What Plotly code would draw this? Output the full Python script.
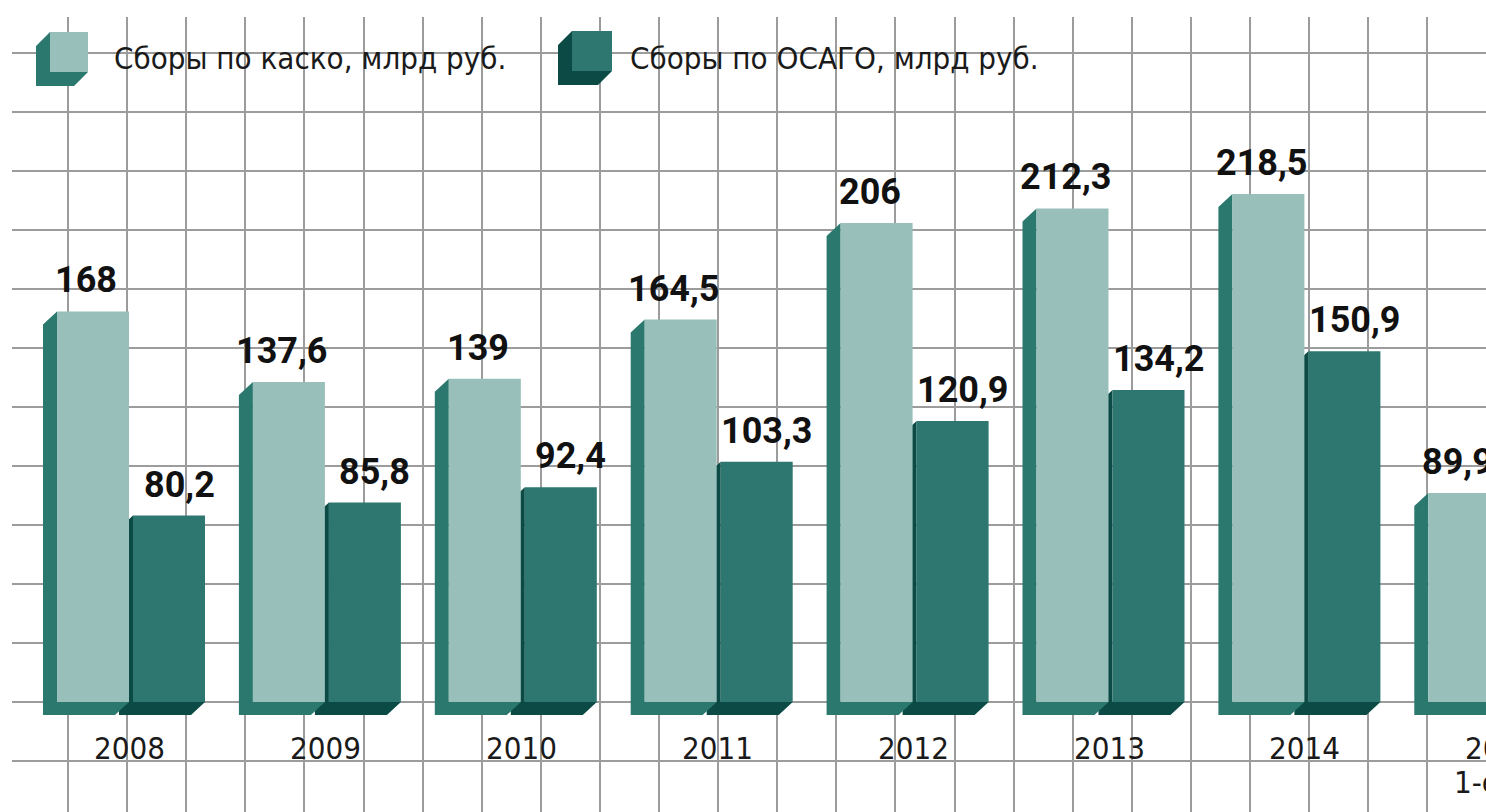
import plotly.graph_objects as go

# ---------------- data ----------------
years = ["2008", "2009", "2010", "2011", "2012", "2013", "2014", "2015"]
kasko = [168, 137.6, 139, 164.5, 206, 212.3, 218.5, 89.9]
osago = [80.2, 85.8, 92.4, 103.3, 120.9, 134.2, 150.9, None]
series_names = ["Сборы по каско, млрд руб.", "Сборы по ОСАГО, млрд руб."]
last_sub_label = "1-е полугодие"

# ---------------- styling / geometry ----------------
W, H = 1486, 812
ML, MT = 12, 17
PX = 195.9      # pixels per category step
X0 = 129.5      # pixel of category 0
PPU = 2.325     # pixels per value unit
BASE = 702      # pixel of value 0

K_FRONT = "#98bfba"
K_SIDE = "#2b786f"
O_FRONT = "#2e7770"
O_SIDE = "#0c4b45"
GRID = "#9c9c9c"

K_OFF, K_W = -36.5 / PX, 72 / PX
O_OFF, O_W = 39.5 / PX, 72 / PX
DX, DY = -14 / PX, -13 / PPU

LABEL_FONT = dict(family="Roboto, DejaVu Sans", size=36, color="#111111", weight=700)
TEXT_FONT = dict(family="DejaVu Sans Condensed, DejaVu Sans", size=31, color="#1a1a1a")

xs = list(range(len(years)))
xrange_ = [(ML - X0) / PX, (W - X0) / PX]
yrange_ = [-(H - BASE) / PPU, (BASE - MT) / PPU]


def px2p(x):
    return (x - ML) / (W - ML)


def py2p(y):
    return (H - y) / (H - MT)


def cat2p(i):
    # category position -> paper fraction (through the same linear x scale)
    return (X0 + i * PX - ML) / (W - ML)


def fmt(v):
    return f"{v:g}".replace(".", ",")


fig = go.Figure()
shapes = []
annotations = []


def add_extrusion(xc, w, v, color):
    xl, xr = xc - w / 2, xc + w / 2
    path = (f"M{xl},{v} L{xl + DX},{v + DY} L{xl + DX},{DY} "
            f"L{xr + DX},{DY} L{xr},0 L{xl},0 Z")
    shapes.append(dict(type="path", xref="x", yref="y", path=path,
                       fillcolor=color, line=dict(width=0), layer="between"))


for i, v in enumerate(osago):
    if v is not None:
        add_extrusion(i + O_OFF, O_W, v, O_SIDE)
for i, v in enumerate(kasko):
    if v is not None:
        add_extrusion(i + K_OFF, K_W, v, K_SIDE)

fig.add_trace(go.Bar(x=[i + K_OFF for i in xs], y=kasko, width=K_W,
                     marker=dict(color=K_FRONT, line=dict(width=0)),
                     name=series_names[0], showlegend=False, hoverinfo="skip"))
fig.add_trace(go.Bar(x=[i + O_OFF for i in xs], y=osago, width=O_W,
                     marker=dict(color=O_FRONT, line=dict(width=0)),
                     name=series_names[1], showlegend=False, hoverinfo="skip"))

# value labels
for i, v in enumerate(kasko):
    if v is not None:
        annotations.append(dict(x=i + K_OFF, y=v, xref="x", yref="y", text=fmt(v),
                                showarrow=False, xanchor="center", yanchor="bottom",
                                xshift=-7, yshift=8, font=LABEL_FONT))
for i, v in enumerate(osago):
    if v is not None:
        annotations.append(dict(x=i + O_OFF, y=v, xref="x", yref="y", text=fmt(v),
                                showarrow=False, xanchor="center", yanchor="bottom",
                                xshift=10, yshift=8, font=LABEL_FONT))

# category labels
for i, yr in enumerate(years):
    annotations.append(dict(x=cat2p(i), y=py2p(748), xref="paper", yref="paper", text=yr,
                            showarrow=False, xanchor="center", yanchor="middle",
                            font=TEXT_FONT))
annotations.append(dict(x=cat2p(len(years) - 1), y=py2p(782), xref="paper", yref="paper",
                        text=last_sub_label, showarrow=False, xanchor="left",
                        yanchor="middle", xshift=1452 - (X0 + (len(years) - 1) * PX),
                        font=TEXT_FONT))

# custom 3D legend
legend_items = [
    (series_names[0], K_FRONT, K_SIDE, (50, 32, 88, 72), 112),
    (series_names[1], O_FRONT, O_SIDE, (572, 31, 612, 71), 628),
]
for name, fc, sc, (x1, y1, x2, y2), tx in legend_items:
    d = 14
    pts = [(x1, y1), (x1 - d, y1 + d), (x1 - d, y2 + d), (x2 - d, y2 + d), (x2, y2), (x1, y2)]
    path = "M" + " L".join(f"{px2p(a)},{py2p(b)}" for a, b in pts) + " Z"
    shapes.append(dict(type="path", xref="paper", yref="paper", path=path,
                       fillcolor=sc, line=dict(width=0), layer="above"))
    shapes.append(dict(type="rect", xref="paper", yref="paper",
                       x0=px2p(x1), x1=px2p(x2), y0=py2p(y2), y1=py2p(y1),
                       fillcolor=fc, line=dict(width=0), layer="above"))
    annotations.append(dict(x=px2p(tx), y=py2p(58), xref="paper", yref="paper",
                            text=name, showarrow=False, xanchor="left",
                            yanchor="middle", font=TEXT_FONT))

fig.update_layout(
    width=W, height=H,
    margin=dict(l=ML, r=0, t=MT, b=0, pad=0),
    paper_bgcolor="white", plot_bgcolor="white",
    barmode="overlay",
    showlegend=False,
    shapes=shapes,
    annotations=annotations,
    xaxis=dict(range=xrange_, showgrid=True, gridcolor=GRID, gridwidth=2,
               tick0=(68 - X0) / PX, dtick=59.1 / PX, showticklabels=False,
               ticks="", zeroline=False, showline=False, fixedrange=True),
    yaxis=dict(range=yrange_, showgrid=True, gridcolor=GRID, gridwidth=2,
               tick0=0, dtick=59 / PPU, showticklabels=False,
               ticks="", zeroline=False, showline=False, fixedrange=True),
)

fig.write_html("out.html", config={"displayModeBar": False},
               post_script="document.body.style.margin='0px';"
                           "document.body.style.overflow='hidden';")
